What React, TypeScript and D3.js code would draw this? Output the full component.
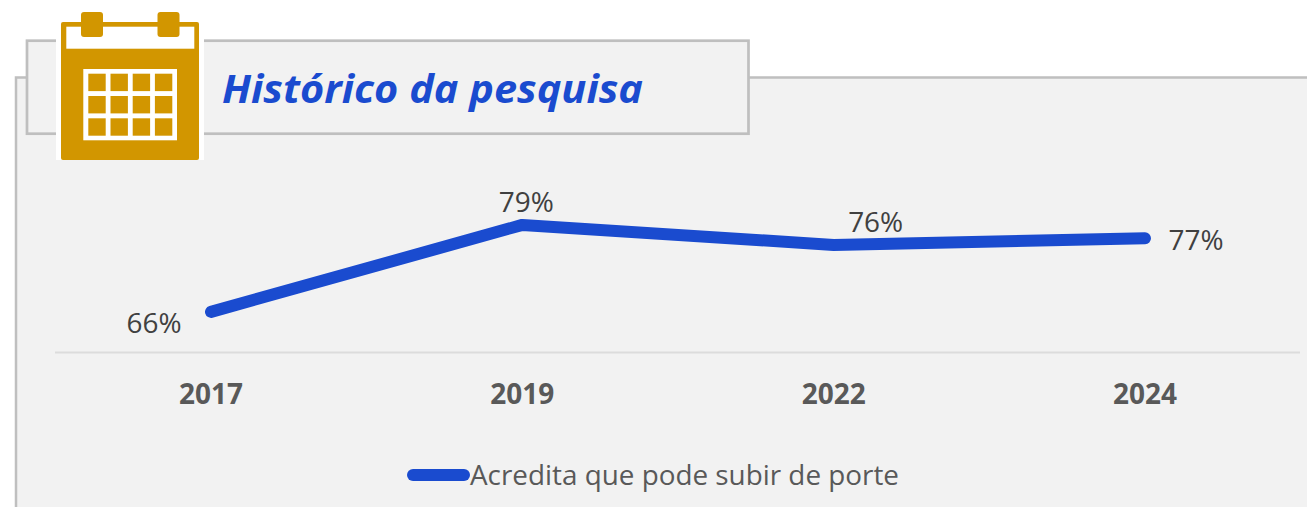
import React from "react";
import * as d3 from "d3";

const years = ["2017", "2019", "2022", "2024"];
const values = [66, 79, 76, 77];
const seriesName = "Acredita que pode subir de porte";
const titleText = "Histórico da pesquisa";
const labelOffsets = [[-57, 21], [4, -13], [42, -13], [51, 12]];
const gridCols = [0, 1, 2, 3];
const gridRows = [0, 1, 2];

const BLUE = "#1a4bcf";
const GOLD = "#d29600";
const BORDER = "#bfbfbf";
const PANEL = "#f2f2f2";
const TEXT = "#595959";
const FONT = "'Open Sans', sans-serif";

export default function App() {
  const x = d3.scalePoint<string>().domain(years).range([211, 1145]);
  const y = d3.scaleLinear().domain([60, 100]).range([352, 84.4]);
  const line = d3
    .line<number>()
    .x((_, i) => x(years[i]) as number)
    .y((d) => y(d));
  return (
    <svg
      width={1307}
      height={507}
      style={{ position: "absolute", left: 0, top: 0, display: "block", background: "#fff" }}
    >
      <rect x={16} y={77.5} width={1300} height={440} fill={PANEL} stroke={BORDER} strokeWidth={2.5} />
      <rect x={27} y={40.7} width={721.5} height={93} fill={PANEL} stroke={BORDER} strokeWidth={2.7} />
      <text x={222} y={103} fontFamily={FONT} fontSize={40} fontWeight={700} fontStyle="italic" fill={BLUE} textLength={421} lengthAdjust="spacingAndGlyphs">
        {titleText}
      </text>

      <rect x={56} y={18} width={148} height={142} fill="#fff" />
      <rect x={61} y={22} width={138} height={138} rx={2} fill={GOLD} />
      <rect x={66.3} y={26.7} width={128} height={22} fill="#fff" />
      <rect x={81} y={12} width={22} height={25} rx={3} fill={GOLD} />
      <rect x={157.5} y={12} width={22} height={25} rx={3} fill={GOLD} />
      <rect x={83.3} y={69} width={93.7} height={71.3} fill="#fff" />
      {gridRows.map((r) =>
        gridCols.map((c) => (
          <rect key={`${r}-${c}`} x={88.3 + c * 22.2} y={73.7 + r * 22.3} width={17.4} height={17.4} fill={GOLD} />
        ))
      )}

      <line x1={55} x2={1300} y1={352.5} y2={352.5} stroke="#dcdcdc" strokeWidth={2} />
      <path d={line(values) ?? ""} fill="none" stroke={BLUE} strokeWidth={12} strokeLinecap="round" strokeLinejoin="round" />

      {values.map((v, i) => (
        <text
          key={years[i]}
          x={(x(years[i]) as number) + labelOffsets[i][0]}
          y={y(v) + labelOffsets[i][1]}
          textAnchor="middle"
          fontFamily={FONT}
          fontSize={28}
          fill="#404040"
          textLength={55}
          lengthAdjust="spacingAndGlyphs"
        >
          {v}%
        </text>
      ))}
      {years.map((yr) => (
        <text key={yr} x={x(yr)} y={404} textAnchor="middle" fontFamily={FONT} fontSize={28} fontWeight={700} fill={TEXT} textLength={64} lengthAdjust="spacingAndGlyphs">
          {yr}
        </text>
      ))}

      <line x1={413} x2={464} y1={475} y2={475} stroke={BLUE} strokeWidth={12} strokeLinecap="round" />
      <text x={470} y={485} fontFamily={FONT} fontSize={28} fill={TEXT} textLength={429} lengthAdjust="spacingAndGlyphs">
        {seriesName}
      </text>
    </svg>
  );
}
